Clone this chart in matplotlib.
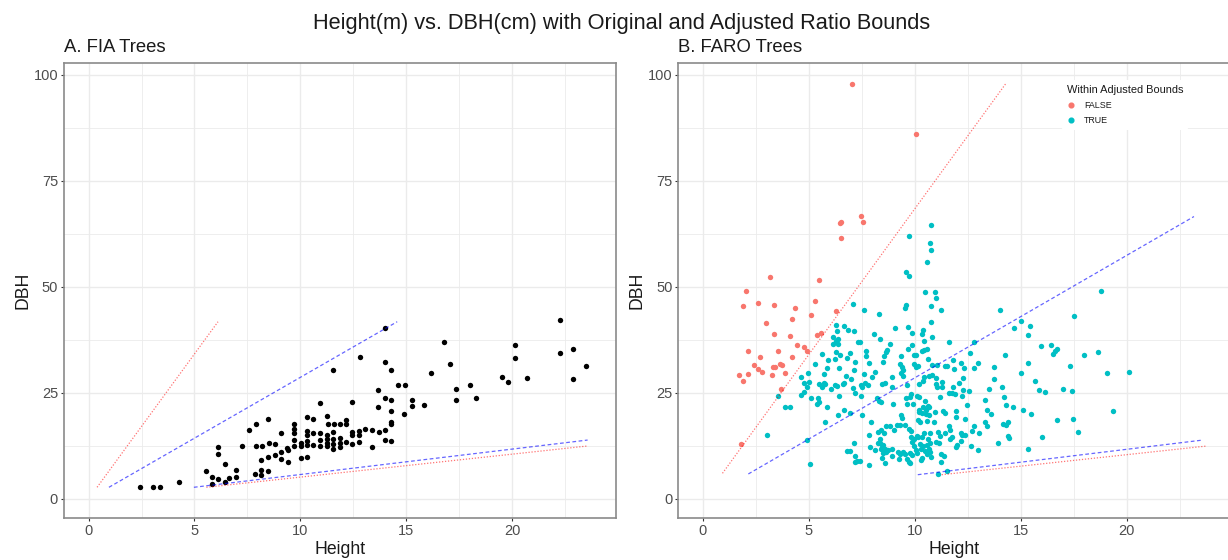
import matplotlib
matplotlib.use("Agg")
import matplotlib.pyplot as plt
from matplotlib.lines import Line2D
import numpy as np

plt.rcParams["font.family"] = ["Liberation Sans", "DejaVu Sans"]

# ---------------- data ----------------
# Panel A: FIA trees (height in m, DBH in cm)
fia_height = [2.44, 3.03, 3.37, 4.29, 5.52, 5.81, 5.81, 6.11, 6.11, 6.11, 6.42, 6.44,
              6.65, 6.97, 6.97, 7.26, 7.58, 7.88, 7.89, 7.89, 8.16, 8.16, 8.16, 8.19,
              8.49, 8.49, 8.49, 8.51, 8.79, 8.81, 9.09, 9.09, 9.10, 9.39, 9.40, 9.42,
              9.70, 9.70, 9.70, 9.70, 9.70, 10.02, 10.02, 10.02, 10.31, 10.33, 10.33,
              10.33, 10.33, 10.33, 10.58, 10.61, 10.61, 10.93, 10.93, 10.93, 10.93,
              11.26, 11.26, 11.26, 11.26, 11.26, 11.29, 11.54, 11.54, 11.54, 11.54,
              11.54, 11.57, 11.86, 11.87, 11.87, 11.87, 12.17, 12.17, 12.17, 12.45,
              12.45, 12.45, 12.45, 12.75, 12.75, 12.75, 12.82, 13.07, 13.38, 13.38,
              13.68, 13.68, 13.70, 13.98, 13.98, 13.98, 14.00, 14.00, 14.28, 14.28,
              14.28, 14.28, 14.29, 14.29, 14.61, 14.89, 14.92, 15.28, 15.28, 15.83,
              16.17, 16.78, 17.08, 17.35, 17.35, 18.02, 18.31, 19.54, 19.81, 20.11,
              20.11, 20.72, 22.24, 22.24, 22.88, 22.88, 23.48]
fia_dbh = [2.9, 2.9, 2.9, 3.9, 6.6, 5.3, 3.5, 4.7, 10.6, 12.3, 4.0, 8.2,
           5.0, 6.8, 5.3, 12.4, 16.2, 6.0, 17.8, 12.6, 6.8, 5.6, 9.1, 12.4,
           18.8, 9.9, 6.7, 13.1, 10.4, 13.0, 15.6, 9.4, 11.0, 12.1, 8.7, 11.6,
           17.7, 16.6, 15.6, 13.8, 12.5, 13.3, 12.5, 9.7, 19.4, 16.0, 15.1,
           13.7, 12.7, 9.9, 18.9, 15.5, 12.7, 22.6, 15.6, 13.8, 12.6,
           19.6, 15.1, 14.1, 13.3, 12.5, 17.7, 30.4, 15.8, 14.1, 13.0,
           11.8, 17.7, 17.7, 14.3, 13.1, 12.3, 18.6, 17.7, 13.4, 22.9,
           15.8, 15.0, 13.0, 16.0, 15.2, 13.5, 33.5, 16.6, 16.3, 12.2,
           25.7, 21.8, 15.8, 23.7, 16.3, 13.9, 40.3, 32.2, 30.4, 20.7,
           18.2, 17.6, 23.3, 13.7, 26.9, 20.1, 26.9, 23.3, 21.9, 22.2,
           29.6, 36.9, 31.8, 25.9, 23.3, 26.9, 23.9, 28.8, 27.7, 36.2,
           33.3, 28.5, 42.1, 34.5, 35.3, 28.4, 31.4]

# Panel B: FARO trees outside the adjusted bounds
faro_false_height = [3.15, 5.49, 2.04, 1.89, 2.59, 3.35, 4.36, 5.28, 5.11, 6.26, 2.99,
                     4.18, 3.35, 4.12, 5.39, 5.55, 2.11, 2.67, 3.55, 4.43, 4.76, 4.91,
                     4.20, 2.39, 2.58, 2.78, 3.32, 3.42, 3.65, 3.74, 3.88, 3.27, 1.70,
                     2.11, 1.90, 3.66, 1.79, 7.04, 7.44, 7.55, 6.51, 6.48, 6.51, 10.05]
faro_false_dbh = [52.3, 51.7, 49.1, 45.4, 46.1, 45.8, 45.0, 46.8, 43.4, 44.3, 41.5,
                  42.5, 38.8, 38.4, 38.6, 39.2, 34.8, 33.5, 35.0, 36.2, 35.8, 34.9,
                  33.5, 31.5, 30.7, 29.9, 31.2, 31.2, 31.8, 31.5, 29.8, 29.2, 29.2,
                  29.4, 27.8, 25.9, 13.0, 97.9, 66.8, 65.3, 65.3, 65.0, 61.6, 86.1]

# Panel B: FARO trees within the adjusted bounds
faro_true_height = [
    7.09, 7.61, 6.29, 6.68, 6.84, 7.15, 8.08, 6.32, 6.16, 6.37, 6.29, 6.16, 6.37, 7.39,
    7.31, 5.64, 6.29, 6.45, 6.92, 7.69, 7.69, 5.91, 6.24, 6.78, 7.20, 7.83, 5.27, 5.86,
    6.40, 7.15, 8.13, 4.97, 5.71, 6.74, 7.61, 7.97, 4.64, 5.00, 5.47, 5.71, 5.77, 5.64,
    4.76, 4.92, 6.24, 6.34, 6.60, 6.67, 7.00, 7.06, 7.47, 7.53, 7.66, 7.81, 6.02, 7.17,
    7.48, 3.55, 4.61, 4.76, 5.11, 5.42, 5.50, 5.36, 5.85, 6.41, 3.85, 4.13, 6.38, 6.67,
    6.92, 7.51, 5.74, 7.91, 3.02, 7.85, 7.15, 7.88, 6.79, 6.95, 7.19, 7.28, 7.19, 7.42,
    7.86, 5.03, 4.90, 8.25,
    10.75, 10.58, 9.59, 9.73, 10.48, 10.94, 11.02, 9.59, 9.56, 10.75, 11.24, 8.33, 10.75,
    9.07, 9.66, 10.40, 10.33, 9.85, 8.36, 10.81, 11.61, 9.87, 10.45, 8.82, 9.70, 8.67,
    8.63, 8.53, 10.33, 10.44, 10.58, 9.95, 10.06, 9.35, 10.62, 11.82, 8.49, 12.20, 9.32,
    9.40, 9.43, 9.37, 9.45, 9.98, 10.04, 10.14, 10.80, 11.03, 11.44, 11.54, 11.85, 12.32,
    12.79, 12.98, 13.75, 8.94, 10.69, 10.80, 10.42, 11.02, 12.26, 13.75, 8.45, 8.58, 8.93,
    9.65, 10.22, 10.39, 11.00, 11.06, 11.30, 11.27, 11.82, 12.09, 12.26, 12.57, 13.52,
    14.10, 11.63, 11.76, 11.91, 12.21, 8.23, 8.30, 8.39, 9.59, 9.82, 9.78, 10.12, 10.20,
    10.47, 11.17, 8.96, 9.62, 9.90, 10.37, 10.61, 10.69, 12.46, 13.30, 14.21, 14.30,
    14.65, 10.22, 10.20, 10.33, 10.53, 10.51, 10.67, 10.97, 11.32, 11.43, 11.93, 11.96,
    13.41, 13.61, 15.12, 15.48, 9.37, 9.38, 9.30, 9.54, 10.17, 10.25, 10.56, 10.92,
    12.35, 12.79, 12.68, 13.05, 13.33, 13.42, 14.18, 14.38, 14.32, 8.41, 8.63, 8.82,
    8.56, 9.04, 9.15, 9.71, 9.81, 10.10, 10.14, 9.98, 10.33, 10.42, 10.73, 10.61, 11.08,
    11.19, 11.02, 11.43, 11.60, 11.68, 11.65, 11.74, 12.01, 11.96, 12.18, 12.24, 12.35,
    12.17, 12.67, 12.98, 13.94, 14.40, 14.46, 15.36, 16.02, 8.12, 8.38, 8.44, 8.52, 8.41,
    8.60, 8.52, 8.63, 8.28, 8.38, 8.75, 8.91, 8.47, 8.60, 8.91, 9.19, 9.30, 9.43, 9.52,
    9.27, 9.63, 9.73, 9.79, 9.87, 9.98, 10.06, 10.12, 9.85, 9.82, 10.25, 10.28, 10.33,
    10.40, 10.48, 10.58, 10.72, 10.67, 10.73, 10.56, 10.77, 10.28, 9.78, 11.16, 11.24,
    11.39, 11.22, 11.52, 11.10,
    15.33, 15.44, 15.00, 14.68, 14.04, 14.26, 15.34, 15.03, 15.66, 15.84, 16.14, 12.59,
    12.78, 15.97,
    18.77, 17.53, 16.41, 16.52, 16.61, 16.69, 18.00, 18.67, 17.32, 19.07, 20.09, 17.01,
    17.40, 19.38, 16.72, 17.49, 17.72,
    10.75, 9.73, 10.72]
faro_true_dbh = [
    45.9, 44.6, 41.0, 40.7, 39.9, 39.5, 38.8, 39.6, 38.2, 37.7, 37.3, 36.6, 36.6, 37.1,
    36.9, 34.2, 34.7, 33.9, 34.4, 34.9, 33.6, 32.7, 32.9, 33.3, 32.4, 32.0, 31.8, 30.8,
    30.8, 30.3, 30.0, 29.8, 29.4, 29.1, 29.4, 28.7, 28.8, 27.5, 27.0, 27.3, 27.0, 26.5,
    27.4, 26.4, 26.9, 26.7, 27.0, 27.4, 28.2, 26.2, 26.9, 26.5, 27.4, 26.8, 25.9, 25.1,
    24.4, 24.4, 24.5, 25.2, 23.9, 23.9, 22.9, 22.3, 21.8, 24.3, 21.8, 21.8, 19.7, 20.9,
    20.2, 19.8, 18.2, 18.1, 15.1, 15.2, 13.3, 12.3, 11.3, 11.2, 10.2, 9.0, 8.7, 9.0,
    8.1, 8.2, 13.9, 15.7,
    58.7, 55.8, 53.5, 52.5, 48.7, 48.9, 47.5, 45.8, 45.1, 45.4, 44.5, 43.6, 41.7,
    40.4, 40.6, 39.8, 38.9, 39.2, 37.7, 38.2, 37.1, 36.3, 37.3, 36.5, 35.4, 35.1,
    34.6, 33.6, 34.9, 35.1, 35.3, 33.9, 33.9, 33.8, 33.0, 32.8, 32.3, 32.1, 31.8,
    31.2, 30.4, 29.6, 29.0, 31.8, 31.2, 31.4, 31.6, 31.6, 31.4, 31.4, 30.7, 30.8,
    30.8, 32.1, 31.1, 28.8, 29.1, 29.2, 28.7, 28.6, 28.5, 28.3, 27.0, 27.3, 26.4,
    26.8, 27.0, 27.8, 27.1, 26.5, 27.5, 26.3, 26.5, 27.4, 25.6, 25.5, 25.9,
    26.5, 24.9, 24.9, 24.8, 24.4, 23.7, 23.2, 22.9, 23.7, 24.8, 24.1, 24.4, 24.1,
    23.2, 24.1, 22.5, 22.3, 22.3, 21.8, 21.9, 21.7, 22.1, 23.4, 24.1, 22.1,
    21.8, 21.1, 20.4, 20.2, 21.1, 20.1, 19.8, 20.4, 20.7, 20.2, 20.7, 19.4,
    21.1, 20.1, 21.0, 20.1, 19.7, 19.0, 17.5, 17.5, 18.6, 18.2, 18.5, 18.2,
    18.8, 17.1, 16.0, 15.6, 18.1, 17.2, 17.6, 18.1, 17.4, 16.3, 17.3, 17.2,
    15.6, 16.3, 17.5, 16.4, 16.1, 14.9, 14.7, 14.2, 14.7, 15.5, 15.5, 14.2, 15.9,
    14.9, 13.5, 15.5, 17.2, 16.3, 14.2, 14.7, 12.8, 12.3, 15.6, 15.1, 15.1,
    13.7, 12.4, 11.6, 13.1, 14.9, 14.5, 11.9, 14.7, 11.6, 13.3, 12.3, 12.7, 11.9,
    11.7, 10.8, 11.1, 13.1, 14.1, 11.6, 11.7, 9.6, 8.6, 10.2, 11.0, 10.6, 11.0, 10.5,
    9.4, 9.4, 8.7, 10.8, 10.4, 12.6, 11.6, 10.8, 13.5, 14.7, 13.0, 11.8, 9.6,
    12.4, 11.4, 12.7, 13.1, 11.9, 11.0, 10.5, 10.0, 9.2, 8.4, 13.1, 10.5,
    10.2, 8.7, 6.7, 5.9,
    38.6, 40.9, 42.0, 40.4, 44.5, 34.0, 32.0, 29.6, 27.8, 25.7, 25.2, 34.5,
    36.9, 36.1,
    49.1, 43.1, 36.3, 34.3, 35.0, 35.3, 34.0, 34.7, 31.4, 29.8, 29.9, 25.9,
    25.5, 20.7, 18.6, 18.8, 15.8,
    64.7, 62.0, 60.4]

# Ratio bound segments: (height_start, dbh_start, height_end, dbh_end)
fia_orig_upper = (0.40, 2.76, 6.11, 41.8)
fia_adj_upper = (0.96, 2.76, 14.57, 41.8)
fia_adj_lower = (4.97, 2.76, 23.56, 13.9)
fia_orig_lower = (5.56, 2.76, 23.56, 12.5)

faro_orig_upper = (0.92, 6.06, 14.29, 97.9)
faro_adj_upper = (2.14, 5.9, 23.18, 66.6)
faro_adj_lower = (10.14, 5.73, 23.6, 13.9)
faro_orig_lower = (11.27, 5.73, 23.8, 12.5)

title = "Height(m) vs. DBH(cm) with Original and Adjusted Ratio Bounds"
panel_titles = ["A. FIA Trees", "B. FARO Trees"]
legend_title = "Within Adjusted Bounds"
legend_labels = ["FALSE", "TRUE"]
x_ticks = [0, 5, 10, 15, 20]
y_ticks = [0, 25, 50, 75, 100]

# ---------------- style ----------------
RED = "#F8766D"
TEAL = "#00BFC4"
GRID = "#EBEBEB"
TICKTXT = "#4D4D4D"

W, H = 1228, 560
fig = plt.figure(figsize=(W / 100, H / 100), dpi=100)

left_px = [63.6, 678.0]
ax_w, top_px, bot_px = 552.4, 63.0, 518.0


def style_axes(ax):
    ax.set_xlim(-1.18, 24.9)
    ax.set_ylim(-4.48, 102.8)
    ax.set_xticks(x_ticks)
    ax.set_yticks(y_ticks)
    ax.set_xticks([2.5, 7.5, 12.5, 17.5, 22.5], minor=True)
    ax.set_yticks([12.5, 37.5, 62.5, 87.5], minor=True)
    ax.grid(True, which="major", color=GRID, lw=1.0, zorder=0)
    ax.grid(True, which="minor", color=GRID, lw=0.6, zorder=0)
    ax.set_axisbelow(True)
    ax.tick_params(which="major", direction="out", length=2.2, width=0.8,
                   color="#333333", labelcolor=TICKTXT, labelsize=10.5, pad=1.8)
    ax.tick_params(which="minor", length=0)
    for s in ax.spines.values():
        s.set_color("#8a8a8a")
        s.set_linewidth(1.2)


def draw_bounds(ax, segs):
    styles = [dict(color="#ff0000", alpha=0.55, lw=0.9, ls=(0, (1, 1.4))),
              dict(color="#0000ff", alpha=0.6, lw=0.9, ls=(0, (3, 2)))]
    for seg, st in zip(segs, [styles[0], styles[1], styles[1], styles[0]]):
        ax.plot([seg[0], seg[2]], [seg[1], seg[3]], zorder=3, **st)


axes = []
for i in range(2):
    ax = fig.add_axes([left_px[i] / W, 1 - bot_px / H, ax_w / W, (bot_px - top_px) / H])
    style_axes(ax)
    axes.append(ax)

ax1, ax2 = axes

ax1.scatter(fia_height, fia_dbh, s=15, color="black", linewidths=0, zorder=2)
draw_bounds(ax1, [fia_orig_upper, fia_adj_upper, fia_adj_lower, fia_orig_lower])

ax2.scatter(faro_false_height, faro_false_dbh, s=15, color=RED, linewidths=0, zorder=2)
ax2.scatter(faro_true_height, faro_true_dbh, s=15, color=TEAL, linewidths=0, zorder=2)
draw_bounds(ax2, [faro_orig_upper, faro_adj_upper, faro_adj_lower, faro_orig_lower])

handles = [Line2D([], [], marker="o", ls="", color=c, markersize=3.4) for c in (RED, TEAL)]
leg = ax2.legend(handles, legend_labels, title=legend_title, loc="upper left",
                 bbox_to_anchor=(0.688, 0.972), fontsize=6.4, title_fontsize=7.9,
                 frameon=True, facecolor="white", edgecolor="none", framealpha=1,
                 alignment="left", handletextpad=0.9, labelspacing=0.7,
                 borderpad=0.5, handlelength=1.0)
leg.get_title().set_color("#1a1a1a")
for t in leg.get_texts():
    t.set_color("#1a1a1a")

# titles and axis labels
fig.text(622 / W, 1 - 23 / H, title, ha="center", va="center", fontsize=15.7,
         color="#1a1a1a")
for i, t in enumerate(panel_titles):
    fig.text(left_px[i] / W, 1 - 47 / H, t, ha="left", va="center", fontsize=13.3,
             color="#1a1a1a")
for i in range(2):
    cx = (left_px[i] + ax_w / 2) / W
    fig.text(cx, 1 - 549 / H, "Height", ha="center", va="center", fontsize=12.7,
             color="#1a1a1a")
    fig.text((left_px[i] - 41) / W, 1 - 290 / H, "DBH", ha="center", va="center",
             rotation=90, fontsize=12.7, color="#1a1a1a")

fig.savefig("out.png", dpi=100)
